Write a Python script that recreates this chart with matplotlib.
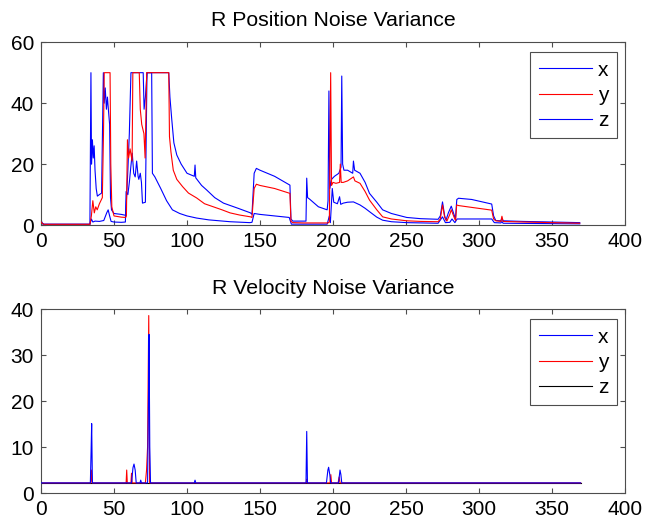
import matplotlib
matplotlib.use('Agg')
import matplotlib.pyplot as plt

plt.rcParams['font.family'] = ['Liberation Sans', 'DejaVu Sans']

# (time, value) pairs
pos_x = [(0, 1.5), (1, 0.6), (2, 0.3), (33.5, 0.3), (34.2, 50), (34.6, 20), (35.2, 28), (35.8, 22),
         (36.4, 26), (37, 18), (37.8, 12), (38.6, 9.5), (40, 10), (41.5, 10.5), (42.7, 50), (43.3, 40),
         (44, 45), (44.8, 38), (45.5, 42), (46.3, 37), (47, 33), (47.6, 9), (48.3, 5), (50, 3.8),
         (55, 3.5), (58, 3.2), (58.5, 8), (59.5, 18), (60.5, 30), (61.6, 50), (70, 50), (70.6, 38),
         (71.5, 42), (72.6, 50), (87.5, 50), (88.3, 42), (89.5, 35), (91, 27), (93, 23), (96, 20),
         (100, 17), (105, 16), (105.5, 19.7), (106, 15.5), (110, 13), (113.5, 11.5), (119, 9),
         (125, 7.2), (135, 5.5), (143.5, 4), (144.5, 3.5), (146, 17), (147.5, 18.6), (150, 18),
         (160, 16), (170.5, 13.1), (171.2, 2), (172.5, 1.3), (181.5, 1.3), (182, 15.4), (182.6, 9),
         (184, 8.5), (190, 6), (196, 5), (196.6, 8), (197.2, 44), (197.8, 12), (199, 15), (201, 16),
         (204, 17), (205.5, 19), (206, 48.9), (206.6, 20), (207.5, 18), (210, 18), (213.5, 17),
         (214, 21), (214.8, 18), (218.5, 17), (222, 14), (225, 10.4), (230, 7.5), (234, 5),
         (240, 3.8), (250.5, 2.5), (260, 2.1), (272, 1.9), (273.5, 3), (275, 7.6), (276.5, 3),
         (277.4, 1.6), (279, 4), (281, 6.2), (283.2, 3), (283.8, 1.8), (284.8, 8.4), (286, 8.8),
         (295, 8.4), (308.7, 6.9), (310, 3), (311.5, 1.5), (315, 1.4), (315.7, 2.3), (316.5, 1.4),
         (330, 1.2), (350, 1.0), (369, 0.8)]

pos_y = [(0, 1.0), (1, 0.5), (2, 0.25), (33.5, 0.25), (34.5, 3), (35.5, 8), (36.5, 4), (37.5, 6),
         (38.5, 5), (40, 7), (42, 9), (42.8, 30), (43.3, 50), (47.3, 50), (47.8, 20), (48.5, 6),
         (50, 3), (55, 2.6), (58, 2.5), (58.5, 3), (59.2, 28), (60, 22), (61, 25), (62.4, 21),
         (62.9, 50), (67.3, 50), (68, 38), (69, 33), (70.5, 30), (71.3, 22), (72.4, 50), (87.5, 50),
         (88, 29), (89, 24), (90.6, 18), (93, 15), (97, 12.6), (101, 10.5), (106.6, 8.9), (112, 7),
         (118, 6), (124, 5), (129.5, 4), (136, 3.3), (143.5, 2.7), (144.5, 2.5), (146, 12),
         (147.5, 13.4), (150, 13), (160, 12), (170.5, 10.4), (171.2, 1.2), (172.5, 0.8), (180, 0.7),
         (190, 0.7), (196.5, 0.7), (197.5, 1), (198.4, 50), (199, 13), (200, 14), (202, 13.7),
         (204.5, 14), (205, 20), (205.6, 14), (207, 14), (210, 14.5), (214, 15.8), (215, 14.5),
         (218.5, 13.7), (222, 11), (225, 8.2), (230, 5), (234, 2.7), (240, 2), (250.5, 1.4),
         (260, 1.2), (272, 1.1), (273.5, 2), (275, 6.6), (276.5, 2.5), (278, 1.3), (280, 3.5),
         (281, 5), (283, 2.5), (284, 1.5), (284.7, 6.6), (286, 6.4), (295, 5.8), (308.7, 4.9),
         (310, 2), (311.5, 1.4), (315, 1.2), (315.7, 2.9), (316.5, 1.2), (330, 1), (350, 0.8),
         (369, 0.6)]

pos_z = [(0, 0.8), (1, 0.4), (2, 0.2), (33.5, 0.2), (34.5, 2), (35.5, 1), (37, 1.3), (40, 1.2),
         (43, 1.5), (45, 4), (46, 5), (47, 3), (48, 1.2), (50, 1), (55, 0.9), (57.8, 1), (58.3, 11),
         (59.5, 10), (60.5, 14), (61.5, 19), (62.5, 23.6), (63.5, 17), (64.5, 15.8), (65.5, 21),
         (66.5, 16), (67, 15), (68, 17), (68.8, 14), (69.5, 7.2), (71.5, 7.5), (72.6, 50),
         (75.8, 50), (76.3, 17), (78, 15.8), (82, 12), (86, 8), (90, 5), (95, 3.8), (100, 3),
         (106.6, 2.3), (115, 1.7), (129.5, 1.1), (143, 0.8), (144.5, 0.9), (146, 3.8), (150, 3.5),
         (160, 3), (170, 2.5), (171.5, 0.3), (180, 0.3), (196, 0.3), (197.5, 3), (198.2, 0.8),
         (199.5, 12), (200.5, 7.5), (203, 7), (204.5, 9.3), (205.3, 6.8), (207, 7.2), (210, 7.5),
         (214, 7.6), (218.5, 6.6), (222, 5.5), (225, 4.4), (230, 2.6), (234, 1.6), (240, 1.1),
         (250.5, 0.8), (272, 0.6), (275, 2.7), (277, 0.8), (280, 0.9), (281.5, 2), (283.5, 0.8),
         (285, 2), (308.7, 2), (310.5, 0.8), (315, 0.7), (315.7, 1.2), (316.5, 0.6), (369, 0.4)]

vel_x = [(0, 2.2), (33.8, 2.2), (34.3, 9), (34.7, 15.1), (35.2, 2.2), (62, 2.2), (63, 5.5),
         (63.7, 6.3), (64.5, 5), (65.2, 2.2), (67.8, 2.2), (68.3, 2.8), (68.8, 2.2), (73, 2.2),
         (73.6, 20), (74, 34.5), (74.5, 10), (75, 2.2), (105, 2.2), (105.5, 2.8), (106, 2.2),
         (181.5, 2.2), (182, 13.4), (182.5, 2.2), (195.5, 2.2), (196.5, 5), (197, 5.6), (197.8, 4),
         (198.4, 2.2), (203.8, 2.2), (204.8, 5), (205.4, 4), (206, 2.2), (369.6, 2.2)]

vel_y = [(0, 2.2), (34, 2.2), (34.5, 5), (35, 2.2), (58.3, 2.2), (58.7, 5), (59.1, 2.2),
         (61.6, 2.2), (62, 4.3), (62.4, 2.2), (71.5, 2.2), (72.3, 5), (73, 10), (73.8, 38.6),
         (74.4, 2.2), (181.7, 2.2), (182, 3), (182.3, 2.2), (198, 2.2), (198.5, 4), (199, 2.2),
         (203.5, 2.2), (204.2, 3.5), (204.8, 2.2), (369.6, 2.2)]

vel_z = [(0, 2.2), (369.6, 2.2)]

xticks = list(range(0, 401, 50))


def style(ax, ylim, ystep):
    ax.set_xlim(0, 400)
    ax.set_ylim(0, ylim)
    ax.set_xticks(xticks)
    ax.set_yticks(range(0, ylim + 1, ystep))
    ax.tick_params(direction='in', length=3.5, width=0.8, color='0.3', labelsize=15,
                   top=True, right=True, pad=5)
    for s in ax.spines.values():
        s.set_color('0.3')
        s.set_linewidth(0.8)


def draw(ax, series, colors, z):
    for data, c, zo, lab in zip(series, colors, z, ['x', 'y', 'z']):
        t = [p[0] for p in data]
        v = [p[1] for p in data]
        ax.plot(t, v, color=c, lw=0.8, zorder=zo, label=lab)


fig = plt.figure(figsize=(6.55, 5.21), dpi=100)
ax1 = fig.add_axes([0.0626, 0.568, 0.8916, 0.351])
ax2 = fig.add_axes([0.0626, 0.0537, 0.8916, 0.353])

draw(ax1, [pos_x, pos_y, pos_z], ['#0000ff', '#ff0000', '#0000ff'], [2, 3, 2])
draw(ax2, [vel_x, vel_y, vel_z], ['#0000ff', '#ff0000', '#000000'], [3, 2, 1])

style(ax1, 60, 20)
style(ax2, 40, 10)
ax1.set_title('R Position Noise Variance', fontsize=15.3, pad=12)
ax2.set_title('R Velocity Noise Variance', fontsize=15.3, pad=11)

for ax in (ax1, ax2):
    leg = ax.legend(loc='upper right', bbox_to_anchor=(0.986, 0.945), fontsize=15,
                    handlelength=2.55, handletextpad=0.3, labelspacing=0.3, borderpad=0.4,
                    borderaxespad=0, fancybox=False, framealpha=1, edgecolor='0.3')
    leg.get_frame().set_linewidth(0.8)

plt.savefig('out.png', dpi=100)
